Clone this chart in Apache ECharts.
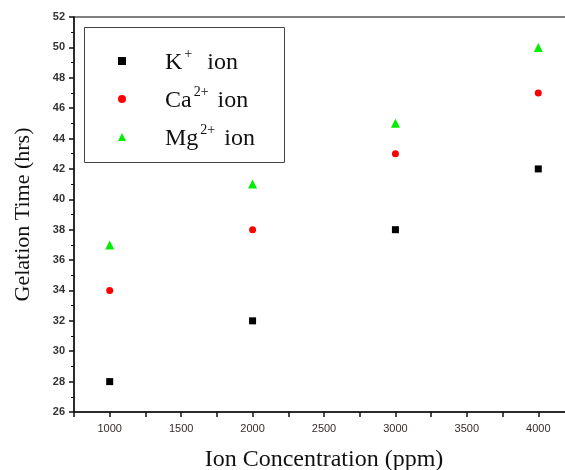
<!DOCTYPE html>
<html>
<head>
<meta charset="utf-8">
<script src="https://cdn.jsdelivr.net/npm/echarts@6/dist/echarts.min.js"></script>
<style>
  html, body { margin: 0; padding: 0; background: #fff; }
  #chart { width: 565px; height: 470px; }
</style>
</head>
<body>
<div id="chart"></div>
<script>
// ion concentration (ppm)
let concentrations = [1000, 2000, 3000, 4000];
// gelation time (hrs)
let kIon = [28, 32, 38, 42];
let caIon = [34, 38, 43, 47];
let mgIon = [37, 41, 45, 50];

let seriesNames = ['K+ ion', 'Ca2+ ion', 'Mg2+ ion'];

function pairs(vals) {
  return vals.map(function (v, i) { return [concentrations[i], v]; });
}

let serif = '"Liberation Serif", "Times New Roman", serif';
let sans = '"Liberation Sans", Arial, sans-serif';

let myChart = echarts.init(document.getElementById('chart'));
myChart.setOption({
  animation: false,
  grid: {
    left: 74,
    top: 17,
    width: 500,
    height: 395,
    outerBoundsMode: 'none',
    show: true,
    borderColor: '#555',
    borderWidth: 1.5
  },
  graphic: [{
    type: 'rect',
    shape: { x: 84.5, y: 27.5, width: 200, height: 135 },
    style: { fill: '#fff', stroke: '#444', lineWidth: 1 },
    z: 5
  }],
  legend: {
    orient: 'vertical',
    left: 113,
    top: 42,
    itemWidth: 8,
    itemHeight: 8,
    itemGap: 10,
    z: 10,
    data: [
      { name: seriesNames[0], icon: 'rect' },
      { name: seriesNames[1], icon: 'circle' },
      { name: seriesNames[2], icon: 'triangle' }
    ],
    formatter: function (name) {
      if (name === seriesNames[0]) return '{sp|}{b|K}{sup|+}{b|  ion}';
      if (name === seriesNames[1]) return '{sp|}{b|Ca}{sup|2+}{b| ion}';
      return '{sp|}{b|Mg}{sup|2+}{b| ion}';
    },
    textStyle: {
      rich: {
        sp: { width: 34 },
        b: { fontFamily: serif, fontSize: 24, color: '#111', lineHeight: 28, verticalAlign: 'bottom' },
        sup: { fontFamily: serif, fontSize: 14, color: '#111', lineHeight: 28, verticalAlign: 'top', padding: [0, 3, 0, 2] }
      }
    }
  },
  xAxis: {
    type: 'value',
    min: 750,
    max: 4250,
    interval: 250,
    name: 'Ion Concentration (ppm)',
    nameLocation: 'middle',
    nameGap: 36,
    nameTextStyle: { fontFamily: serif, fontSize: 24, color: '#111' },
    splitLine: { show: false },
    axisLine: { lineStyle: { color: '#111', width: 1.5 } },
    axisTick: { lineStyle: { color: '#111', width: 1.5 }, length: 5 },
    axisLabel: {
      fontFamily: sans,
      fontSize: 11,
      color: '#3a2a2a',
      margin: 11,
      formatter: function (v) { return v % 500 === 0 ? String(v) : ''; }
    }
  },
  yAxis: {
    type: 'value',
    min: 26,
    max: 52,
    interval: 2,
    name: 'Gelation Time (hrs)',
    nameLocation: 'middle',
    nameGap: 40,
    nameTextStyle: { fontFamily: serif, fontSize: 22, color: '#111' },
    splitLine: { show: false },
    axisLine: { lineStyle: { color: '#111', width: 1.5 } },
    axisTick: { length: 5, lineStyle: { color: '#111', width: 1.5 } },
    minorTick: { show: true, splitNumber: 2, length: 3, lineStyle: { color: '#111', width: 1 } },
    axisLabel: {
      fontFamily: sans,
      fontSize: 11,
      fontWeight: 'bold',
      color: '#333',
      margin: 9
    }
  },
  series: [{
    name: seriesNames[0],
    type: 'scatter',
    symbol: 'rect',
    symbolSize: 7,
    itemStyle: { color: '#000', opacity: 1 },
    data: pairs(kIon)
  }, {
    name: seriesNames[1],
    type: 'scatter',
    symbol: 'circle',
    symbolSize: 7,
    itemStyle: { color: '#ff0000', opacity: 1 },
    data: pairs(caIon)
  }, {
    name: seriesNames[2],
    type: 'scatter',
    symbol: 'triangle',
    symbolSize: 9,
    itemStyle: { color: '#00ee00', opacity: 1 },
    data: pairs(mgIon)
  }]
});
</script>
</body>
</html>
